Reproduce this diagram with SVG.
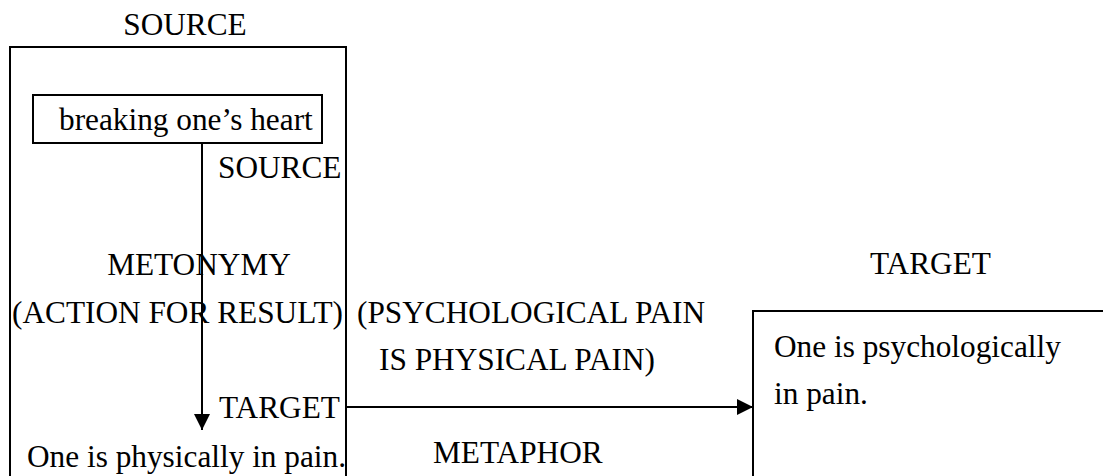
<svg xmlns="http://www.w3.org/2000/svg" width="1103" height="476" viewBox="0 0 1103 476">
  <style>
    .box { fill: none; stroke: #000; stroke-width: 2; }
    .link { fill: none; stroke: #000; stroke-width: 2; }
  </style>
  <defs>
    <marker id="arrow" viewBox="0 0 16 16" refX="16" refY="8" markerWidth="16" markerHeight="16" markerUnits="userSpaceOnUse" orient="auto">
      <path d="M0,0 L16,8 L0,16 Z" fill="#000"/>
    </marker>
  </defs>

  <rect width="1103" height="476" fill="#fff"/>

  <g font-family="Liberation Serif" font-size="31.3" fill="#000">
    <!-- source domain frame -->
    <g id="source-domain">
      <text x="185" y="35" text-anchor="middle">SOURCE</text>
      <path class="box" d="M10,490 V47 H346 V490"/>
    </g>

    <!-- metonymic source -->
    <g id="breaking-heart">
      <rect class="box" x="33" y="95" width="289" height="48" stroke-width="1.6"/>
      <text x="59" y="130">breaking one’s heart</text>
    </g>

    <g id="metonymy-labels">
      <text x="218" y="178">SOURCE</text>
      <text x="199" y="275" text-anchor="middle">METONYMY</text>
      <text x="12" y="323">(ACTION FOR RESULT)</text>
      <text x="219" y="418">TARGET</text>
    </g>

    <!-- metonymic target -->
    <g id="physical-pain">
      <text x="27" y="467">One is physically in pain.</text>
    </g>

    <g id="metaphor-labels">
      <text x="357" y="323">(PSYCHOLOGICAL PAIN</text>
      <text x="379" y="370">IS PHYSICAL PAIN)</text>
      <text x="433" y="463">METAPHOR</text>
    </g>

    <!-- target domain -->
    <g id="target-domain">
      <text x="870" y="274">TARGET</text>
      <path class="box" d="M753,490 V311 H1110"/>
      <text x="774" y="357">One is psychologically</text>
      <text x="774" y="404">in pain.</text>
    </g>
  </g>

  <!-- mappings -->
  <g id="connectors">
    <line class="link" x1="202" y1="143" x2="202" y2="430" marker-end="url(#arrow)"/>
    <line class="link" x1="346" y1="407" x2="753" y2="407" marker-end="url(#arrow)"/>
  </g>
</svg>
